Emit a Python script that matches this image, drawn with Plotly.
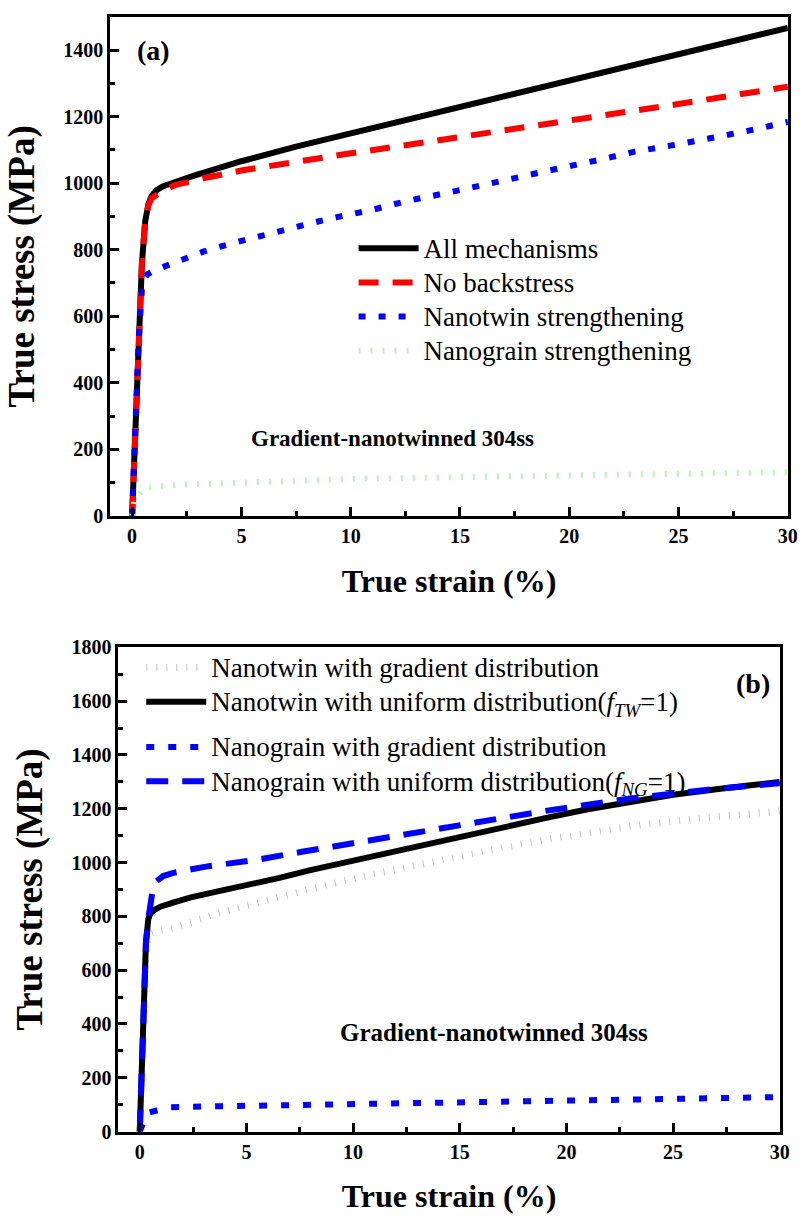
import plotly.graph_objects as go

# ---------------- Panel (a): strengthening mechanisms ----------------
strain_a_all = [0, 0.15, 0.3, 0.45, 0.6, 0.75, 0.9, 1.1, 1.4, 2.0, 2.8, 3.5, 5, 7.5, 10,
                12.5, 15, 17.5, 20, 22.5, 25, 27.5, 30]
stress_a_all = [0, 270, 530, 760, 885, 938, 962, 978, 990, 1005, 1022, 1036, 1066, 1110, 1150,
                1190, 1230, 1270, 1310, 1350, 1390, 1428, 1467]

strain_a_nobs = [0, 0.15, 0.3, 0.45, 0.6, 0.75, 0.9, 1.1, 1.4, 2.0, 2.8, 3.5, 5, 7.5, 10,
                 12.5, 15, 17.5, 20, 22.5, 25, 27.5, 30]
stress_a_nobs = [0, 270, 530, 760, 885, 935, 955, 966, 977, 995, 1008, 1018, 1038, 1065, 1090,
                 1114, 1138, 1163, 1188, 1213, 1238, 1264, 1290]

strain_a_nt = [0, 0.15, 0.3, 0.45, 0.55, 0.7, 1.0, 1.5, 2.25, 3.25, 4.5, 5.7, 7.5, 9, 11,
               12.6, 14.5, 16.1, 18, 19.7, 21.5, 23, 25, 26.5, 28, 30]
stress_a_nt = [0, 270, 530, 680, 712, 726, 737, 750, 770, 794, 818, 839, 866, 893, 920,
               947, 972, 996, 1022, 1047, 1072, 1095, 1117, 1134, 1155, 1184]

strain_a_ng = [0, 0.1, 0.5, 1, 2, 3.5, 5, 7.5, 10, 12.5, 15, 17.5, 20, 22.5, 25, 27.5, 30]
stress_a_ng = [0, 45, 80, 88, 93, 97, 101, 106, 111, 114, 117, 120, 123, 125, 127, 129, 131]

# ---------------- Panel (b): gradient vs uniform distribution ----------------
strain_b_ntg = [0, 0.15, 0.3, 0.45, 0.56, 0.8, 1.57, 2.5, 3.6, 5, 7, 9, 11, 13, 15,
                17, 19, 21, 23, 25, 27, 30]
stress_b_ntg = [0, 360, 690, 727, 738, 745, 757, 780, 811, 840, 882, 922, 958, 992, 1025,
                1055, 1085, 1112, 1135, 1155, 1172, 1192]

strain_b_ntu = [0, 0.1, 0.2, 0.29, 0.4, 0.5, 0.7, 1.0, 1.6, 2.35, 3.76, 5, 6.5, 8, 10,
                13, 15, 17, 19, 21, 23, 25, 27.5, 30]
stress_b_ntu = [0, 240, 480, 702, 790, 812, 825, 837, 852, 870, 895, 915, 942, 972, 1008,
                1062, 1095, 1130, 1165, 1198, 1225, 1252, 1277, 1300]

strain_b_ngg = [0, 0.2, 0.44, 1.34, 3, 5.6, 10.2, 15.1, 19.5, 24.2, 28.8, 30]
stress_b_ngg = [0, 40, 71, 90, 93, 96, 102, 109, 115, 121, 126, 128]

strain_b_ngu = [0, 0.1, 0.2, 0.29, 0.4, 0.48, 0.6, 0.79, 1.1, 1.57, 2.2, 3.1, 4.3, 5.6,
                7.6, 11, 15, 19, 23, 27, 30]
stress_b_ngu = [0, 240, 480, 702, 790, 843, 895, 931, 950, 962, 973, 985, 998, 1012,
                1040, 1085, 1140, 1192, 1238, 1274, 1295]

x_ticks = [0, 5, 10, 15, 20, 25, 30]
y_ticks_a = [0, 200, 400, 600, 800, 1000, 1200, 1400]
y_ticks_b = [0, 200, 400, 600, 800, 1000, 1200, 1400, 1600, 1800]

SERIF = "Liberation Serif"
BLUE = "#0000ff"


def entry(label):
    # legend entries are set a little larger than the row pitch of the legend box
    return '<span style="font-size:27px">' + label + "</span>"


fig = go.Figure()

# panel (a)
fig.add_trace(go.Scatter(x=strain_a_all, y=stress_a_all, mode="lines", name=entry("All mechanisms"),
                         line=dict(color="black", width=6), xaxis="x", yaxis="y", legend="legend"))
fig.add_trace(go.Scatter(x=strain_a_nobs, y=stress_a_nobs, mode="lines", name=entry("No backstress"),
                         line=dict(color="#ff0000", width=6, dash="20px,14px"),
                         xaxis="x", yaxis="y", legend="legend"))
fig.add_trace(go.Scatter(x=strain_a_nt, y=stress_a_nt, mode="lines",
                         name=entry("Nanotwin strengthening"),
                         line=dict(color=BLUE, width=6, dash="7px,13px"),
                         xaxis="x", yaxis="y", legend="legend"))
fig.add_trace(go.Scatter(x=strain_a_ng, y=stress_a_ng, mode="lines",
                         name=entry("Nanograin strengthening"),
                         line=dict(color="#b6f4b6", width=6, dash="2px,10px"),
                         xaxis="x", yaxis="y", legend="legend"))

# panel (b)
fig.add_trace(go.Scatter(x=strain_b_ntg, y=stress_b_ntg, mode="lines",
                         name=entry("Nanotwin with gradient distribution"),
                         line=dict(color="#c4c4c4", width=7, dash="1px,9px"),
                         xaxis="x2", yaxis="y2", legend="legend2", legendgroup="nt"))
fig.add_trace(go.Scatter(x=strain_b_ntu, y=stress_b_ntu, mode="lines",
                         name=entry("Nanotwin with uniform distribution(<i>f</i><sub><i>TW</i></sub>=1)"),
                         line=dict(color="black", width=6),
                         xaxis="x2", yaxis="y2", legend="legend2", legendgroup="nt"))
fig.add_trace(go.Scatter(x=strain_b_ngg, y=stress_b_ngg, mode="lines",
                         name=entry("Nanograin with gradient distribution"),
                         line=dict(color=BLUE, width=6, dash="8px,14px"),
                         xaxis="x2", yaxis="y2", legend="legend2", legendgroup="ng"))
fig.add_trace(go.Scatter(x=strain_b_ngu, y=stress_b_ngu, mode="lines",
                         name=entry("Nanograin with uniform distribution(<i>f</i><sub><i>NG</i></sub>=1)"),
                         line=dict(color=BLUE, width=6, dash="22px,14px"),
                         xaxis="x2", yaxis="y2", legend="legend2", legendgroup="ng"))

W, H = 811, 1228

axis_common = dict(
    showline=True, linecolor="black", linewidth=3, mirror=True,
    ticks="inside", ticklen=9, tickwidth=3, tickcolor="black",
    showgrid=False, zeroline=False,
    tickfont=dict(family=SERIF, size=20, color="black", weight="bold"),
)
minor_x = dict(ticks="inside", dtick=2.5, tick0=0, ticklen=5, tickwidth=3, tickcolor="black")
minor_y = dict(ticks="inside", dtick=100, tick0=0, ticklen=5, tickwidth=3, tickcolor="black")
xtitle_font = dict(family=SERIF, size=32, color="black", weight="bold")
ytitle_font = dict(family=SERIF, size=37, color="black", weight="bold")

fig.update_layout(
    width=W, height=H,
    margin=dict(l=0, r=0, t=0, b=0),
    paper_bgcolor="white", plot_bgcolor="white",
    font=dict(family=SERIF, color="black"),
    xaxis=dict(axis_common, domain=[111.6 / W, 797.7 / W], range=[-1, 30], anchor="y",
               tickvals=x_ticks, minor=minor_x,
               title=dict(text="True strain (%)", standoff=24, font=xtitle_font)),
    yaxis=dict(axis_common, domain=[1 - 514 / H, 1 - 6 / H], range=[0, 1500], anchor="x",
               tickvals=y_ticks_a, minor=minor_y,
               title=dict(text="True stress (MPa)", standoff=18, font=ytitle_font)),
    xaxis2=dict(axis_common, domain=[119.9 / W, 789.5 / W], range=[-1, 30], anchor="y2",
                tickvals=x_ticks, minor=minor_x,
                title=dict(text="True strain (%)", standoff=24, font=xtitle_font)),
    yaxis2=dict(axis_common, domain=[1 - 1141 / H, 1 - 648 / H], range=[0, 1800], anchor="x2",
                tickvals=y_ticks_b, minor=minor_y,
                title=dict(text="True stress (MPa)", standoff=18, font=ytitle_font)),
    legend=dict(x=358 / W, y=1 - 219 / H, xanchor="left", yanchor="top",
                bgcolor="rgba(0,0,0,0)", borderwidth=0, itemwidth=60,
                font=dict(family=SERIF, size=24, color="black")),
    legend2=dict(x=143 / W, y=1 - 646 / H, xanchor="left", yanchor="top",
                 bgcolor="rgba(0,0,0,0)", borderwidth=0, itemwidth=60,
                 traceorder="grouped", tracegroupgap=11,
                 font=dict(family=SERIF, size=24, color="black")),
    showlegend=True,
)

fig.add_annotation(text="<b>(a)</b>", xref="paper", yref="paper", x=155 / W, y=1 - 40 / H,
                   xanchor="center", yanchor="middle", showarrow=False,
                   font=dict(family=SERIF, size=28, color="black"))
fig.add_annotation(text="<b>Gradient-nanotwinned 304ss</b>", xref="paper", yref="paper",
                   x=397 / W, y=1 - 435 / H, xanchor="center", yanchor="middle", showarrow=False,
                   font=dict(family=SERIF, size=23, color="black"))
fig.add_annotation(text="<b>(b)</b>", xref="paper", yref="paper", x=762 / W, y=1 - 685 / H,
                   xanchor="center", yanchor="middle", showarrow=False,
                   font=dict(family=SERIF, size=28, color="black"))
fig.add_annotation(text="<b>Gradient-nanotwinned 304ss</b>", xref="paper", yref="paper",
                   x=500 / W, y=1 - 1040 / H, xanchor="center", yanchor="middle", showarrow=False,
                   font=dict(family=SERIF, size=25, color="black"))

fig.write_html("out.html")
